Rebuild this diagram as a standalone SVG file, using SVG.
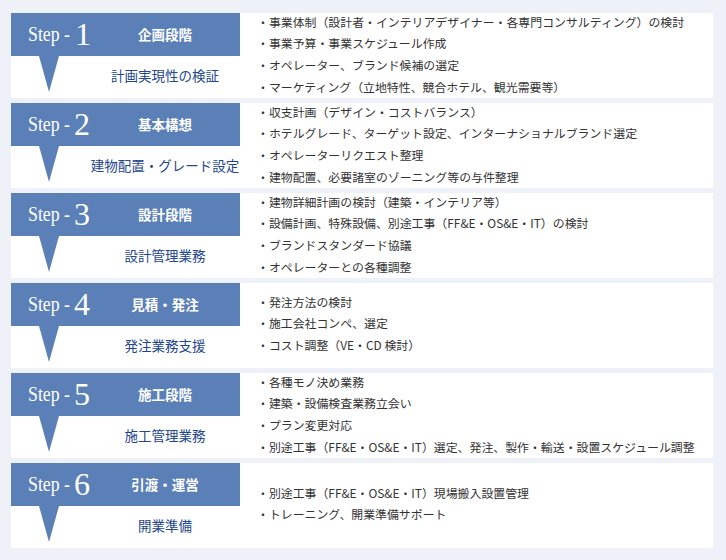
<svg xmlns="http://www.w3.org/2000/svg" width="726" height="560" viewBox="0 0 726 560">
<style>
.bg{fill:#eef2f8}
.panel{fill:#ffffff}
.head{fill:#5b80b8}
.step{font-family:"Liberation Serif","DejaVu Serif",serif;fill:#ffffff;font-size:20px}
.num{font-family:"Liberation Serif","DejaVu Serif",serif;fill:#ffffff;font-size:32px}
.title{font-family:"Noto Sans CJK JP","Noto Sans",sans-serif;fill:#ffffff;font-size:13.5px;font-weight:bold;text-anchor:middle}
.sub{font-family:"Noto Sans CJK JP","Noto Sans",sans-serif;fill:#23468f;font-size:13.5px;text-anchor:middle}
.item{font-family:"Noto Sans CJK JP","Noto Sans",sans-serif;fill:#333333;font-size:11.9px}
</style>
<defs>
<g id="frame">
<rect class="panel" x="11" y="13" width="702" height="85"/>
<rect class="head" x="11" y="13" width="229" height="43"/>
<polygon class="head" points="39,56 59,56 49,92"/>
<text class="step" x="28" y="41" textLength="42" lengthAdjust="spacingAndGlyphs">Step -</text>
</g>
</defs>
<rect class="bg" x="0" y="0" width="726" height="560"/>

<g id="step1">
<use href="#frame"/>
<text class="num" x="75" y="45">1</text>
<text class="title" x="165" y="40">企画段階</text>
<text class="sub" x="165" y="81">計画実現性の検証</text>
<text class="item" x="257" y="26.5">・事業体制（設計者・インテリアデザイナー・各専門コンサルティング）の検討</text>
<text class="item" x="257" y="48.2">・事業予算・事業スケジュール作成</text>
<text class="item" x="257" y="69.8">・オペレーター、ブランド候補の選定</text>
<text class="item" x="257" y="91.5">・マーケティング（立地特性、競合ホテル、観光需要等）</text>
</g>

<g id="step2" transform="translate(0,90)">
<use href="#frame"/>
<text class="num" x="74" y="45">2</text>
<text class="title" x="165" y="40">基本構想</text>
<text class="sub" x="165" y="81">建物配置・グレード設定</text>
<text class="item" x="257" y="26.5">・収支計画（デザイン・コストバランス）</text>
<text class="item" x="257" y="48.2">・ホテルグレード、ターゲット設定、インターナショナルブランド選定</text>
<text class="item" x="257" y="69.8">・オペレーターリクエスト整理</text>
<text class="item" x="257" y="91.5">・建物配置、必要諸室のゾーニング等の与件整理</text>
</g>

<g id="step3" transform="translate(0,180)">
<use href="#frame"/>
<text class="num" x="74" y="45">3</text>
<text class="title" x="165" y="40">設計段階</text>
<text class="sub" x="165" y="81">設計管理業務</text>
<text class="item" x="257" y="26.5">・建物詳細計画の検討（建築・インテリア等）</text>
<text class="item" x="257" y="48.2">・設備計画、特殊設備、別途工事（FF&amp;E・OS&amp;E・IT）の検討</text>
<text class="item" x="257" y="69.8">・ブランドスタンダード協議</text>
<text class="item" x="257" y="91.5">・オペレーターとの各種調整</text>
</g>

<g id="step4" transform="translate(0,270)">
<use href="#frame"/>
<text class="num" x="74" y="45">4</text>
<text class="title" x="165" y="40">見積・発注</text>
<text class="sub" x="165" y="81">発注業務支援</text>
<text class="item" x="257" y="36.5">・発注方法の検討</text>
<text class="item" x="257" y="58">・施工会社コンペ、選定</text>
<text class="item" x="257" y="79.5">・コスト調整（VE・CD 検討）</text>
</g>

<g id="step5" transform="translate(0,360)">
<use href="#frame"/>
<text class="num" x="74" y="45">5</text>
<text class="title" x="165" y="40">施工段階</text>
<text class="sub" x="165" y="81">施工管理業務</text>
<text class="item" x="257" y="26.5">・各種モノ決め業務</text>
<text class="item" x="257" y="48.2">・建築・設備検査業務立会い</text>
<text class="item" x="257" y="69.8">・プラン変更対応</text>
<text class="item" x="257" y="91.5">・別途工事（FF&amp;E・OS&amp;E・IT）選定、発注、製作・輸送・設置スケジュール調整</text>
</g>

<g id="step6" transform="translate(0,450)">
<use href="#frame"/>
<text class="num" x="74" y="45">6</text>
<text class="title" x="165" y="40">引渡・運営</text>
<text class="sub" x="165" y="81">開業準備</text>
<text class="item" x="257" y="47.5">・別途工事（FF&amp;E・OS&amp;E・IT）現場搬入設置管理</text>
<text class="item" x="257" y="69">・トレーニング、開業準備サポート</text>
</g>
</svg>
